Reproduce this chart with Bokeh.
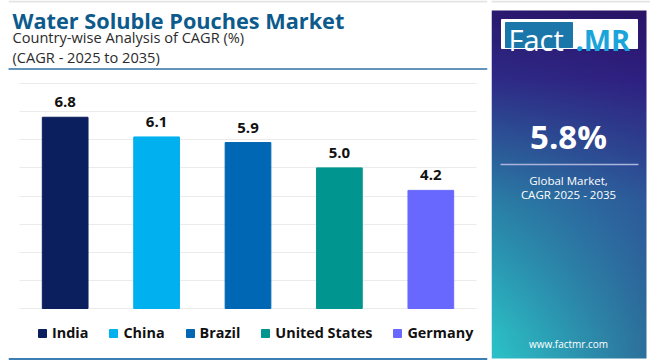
import numpy as np
from bokeh.plotting import figure
from bokeh.layouts import row
from bokeh.models import (ColumnDataSource, Range1d, FactorRange, LabelSet, Label,
                          Legend, LegendItem, FixedTicker, Span)
from bokeh.core.properties import value
from bokeh.embed import file_html
from bokeh.resources import INLINE

# ---------------- data ----------------
countries = ["India", "China", "Brazil", "United States", "Germany"]
cagr = [6.8, 6.1, 5.9, 5.0, 4.2]
bar_colors = ["#0b1f5e", "#00b0ef", "#0067b4", "#00968f", "#6868fe"]
title_text = "Water Soluble Pouches Market"
subtitle_1 = "Country-wise Analysis of CAGR (%)"
subtitle_2 = "(CAGR - 2025 to 2035)"
global_value = "5.8%"
global_caption = ["Global Market,", "CAGR 2025 - 2035"]
website = "www.factmr.com"
y_ticks = [0, 1, 2, 3, 4, 5, 6, 7, 8]

FONT_NAME = "Open Sans"
FONT = value(FONT_NAME)
LEFT_W = 491
PANEL_W = 159
TOTAL_H = 360

# ---- layout geometry of the left (chart) figure, in screen pixels ----
B_LEFT, B_RIGHT = 8, 4
PAD = 0.12                       # category padding (synthetic units)
FRAME_W = LEFT_W - B_LEFT - B_RIGHT
PX_PER_CAT = FRAME_W / (len(countries) + 2 * PAD)
BASE_PX = 308                    # screen y of value 0
PX_PER_UNIT = 28.125
Y_TOP = BASE_PX / PX_PER_UNIT
Y_BOT = -(TOTAL_H - BASE_PX) / PX_PER_UNIT


def sx(px):
    """screen x (px) -> synthetic data x for decorations"""
    return (px - B_LEFT) / PX_PER_CAT - PAD


def sy(py):
    """screen y (px from top) -> data y for decorations"""
    return (BASE_PX - py) / PX_PER_UNIT


# ---------------- chart + header (one figure) ----------------
src = ColumnDataSource(dict(country=countries, cagr=cagr, color=bar_colors,
                            label=[f"{v:.1f}" for v in cagr]))
chart = figure(width=LEFT_W, height=TOTAL_H,
               x_range=FactorRange(*countries, range_padding=PAD,
                                   range_padding_units="absolute"),
               y_range=Range1d(Y_BOT, Y_TOP), output_backend="svg", toolbar_location=None,
               min_border_left=B_LEFT, min_border_right=B_RIGHT, min_border_top=0,
               min_border_bottom=0)
chart.outline_line_color = None
chart.xaxis.visible = False
chart.yaxis.visible = False
chart.xgrid.visible = False
chart.ygrid.ticker = FixedTicker(ticks=y_ticks)
chart.ygrid.grid_line_color = "#ebebeb"
chart.ygrid.grid_line_width = 1
chart.ygrid.cross_bounds = (0, len(countries))

bars = chart.vbar(x="country", top="cagr", bottom=0, width=0.5, color="color", source=src)
chart.add_layout(LabelSet(x="country", y="cagr", text="label", source=src, y_offset=10,
                          text_align="center", text_baseline="alphabetic", text_font=FONT,
                          text_font_size="15px", text_font_style="bold",
                          text_color="#111111"))

items = [LegendItem(label=c, renderers=[bars], index=i) for i, c in enumerate(countries)]
legend = Legend(items=items, orientation="horizontal", location=(29, 18),
                glyph_width=10, glyph_height=10, label_standoff=5, spacing=20,
                padding=0, margin=0, label_text_font=FONT_NAME, label_text_font_size="14.4px",
                label_text_font_style="bold", label_text_color="#111111",
                border_line_color=None, background_fill_alpha=0)
chart.add_layout(legend)

# header texts and rules
chart.add_layout(Span(location=sy(1), dimension="width", line_color="#e4e4e4", line_width=2))
chart.add_layout(Label(x=sx(12), y=sy(19.5), text=title_text, text_font=FONT_NAME,
                       text_font_size="21.7px", text_font_style="bold", text_color="#0d5a8c",
                       text_baseline="alphabetic"))
chart.add_layout(Label(x=sx(12), y=sy(36), text=subtitle_1, text_font=FONT_NAME,
                       text_font_size="14.6px", text_color="#2b2b2b",
                       text_baseline="alphabetic"))
chart.add_layout(Label(x=sx(12), y=sy(56.5), text=subtitle_2, text_font=FONT_NAME,
                       text_font_size="14.6px", text_color="#2b2b2b",
                       text_baseline="alphabetic"))
chart.segment(x0=[sx(5)], y0=[sy(68.5)], x1=[sx(487)], y1=[sy(68.5)],
              line_color="#2f72a3", line_width=1.5)
chart.add_layout(Span(location=sy(358.5), dimension="width", line_color="#3d7fb3",
                      line_width=2))

# ---------------- right panel ----------------
panel = figure(width=PANEL_W, height=TOTAL_H, x_range=Range1d(0, PANEL_W),
               y_range=Range1d(0, TOTAL_H), output_backend="svg", toolbar_location=None)
panel.axis.visible = False
panel.grid.visible = False
panel.outline_line_color = None
panel.min_border = 0


def hex2rgb(h):
    h = h.lstrip("#")
    return np.array([int(h[i:i + 2], 16) for i in (0, 2, 4)], dtype=float)


v_stops = [0.0, 0.19, 0.55, 0.93, 1.0]
left_stops = ["#2a1a70", "#2e2a86", "#2a7fa6", "#2bbcc4", "#2cc2c8"]
right_stops = ["#2a1566", "#2f1f80", "#2d5a9a", "#2d6f9c", "#2d709c"]
rows, cols = 174, 78
vv = np.linspace(1, 0, rows)  # row 0 is bottom
uu = np.linspace(0, 1, cols)
L = np.stack([np.interp(vv, v_stops, [hex2rgb(c)[k] for c in left_stops]) for k in range(3)], -1)
R = np.stack([np.interp(vv, v_stops, [hex2rgb(c)[k] for c in right_stops]) for k in range(3)], -1)
rgb = L[:, None, :] * (1 - uu[None, :, None]) + R[:, None, :] * uu[None, :, None]
img = np.empty((rows, cols), dtype=np.uint32)
view = img.view(dtype=np.uint8).reshape((rows, cols, 4))
view[:, :, 0:3] = rgb.astype(np.uint8)
view[:, :, 3] = 255
panel.segment(x0=[0], y0=[359], x1=[PANEL_W], y1=[359], line_color="#e4e4e4", line_width=2)
panel.image_rgba(image=[img], x=0, y=2, dw=155, dh=348)

# logo
panel.quad(left=[10], right=[146], bottom=[312], top=[341], color="white")
panel.quad(left=[14], right=[81], bottom=[313], top=[338], color="#1b76aa")
panel.add_layout(Label(x=17, y=321, text="Fact", text_font=FONT_NAME, text_font_size="29px",
                       text_color="white", text_baseline="alphabetic"))
panel.add_layout(Label(x=84, y=321, text=".MR", text_font=FONT_NAME, text_font_size="29px",
                       text_font_style="bold", text_color="#1aa5da",
                       text_baseline="alphabetic"))

panel.add_layout(Label(x=77, y=224, text=global_value, text_font=FONT_NAME,
                       text_font_size="33px", text_font_style="bold", text_color="white",
                       text_align="center", text_baseline="middle"))
panel.segment(x0=[9], y0=[196], x1=[147], y1=[196], line_color="#aab4dc", line_width=1.5)
panel.add_layout(Label(x=77, y=180, text=global_caption[0], text_font=FONT_NAME,
                       text_font_size="11.5px", text_color="white", text_align="center",
                       text_baseline="middle"))
panel.add_layout(Label(x=77, y=166, text=global_caption[1], text_font=FONT_NAME,
                       text_font_size="11.5px", text_color="white", text_align="center",
                       text_baseline="middle"))
panel.add_layout(Label(x=77, y=17, text=website, text_font=FONT_NAME, text_font_size="10px",
                       text_color="white", text_align="center", text_baseline="middle"))

layout = row(chart, panel)
open("out.html", "w").write(file_html(layout, INLINE))
